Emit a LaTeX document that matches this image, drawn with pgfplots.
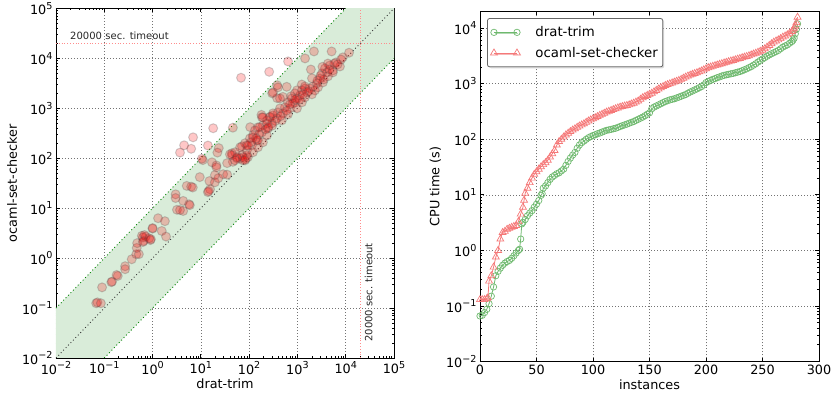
\documentclass[border=0pt]{standalone}
\usepackage{pgfplots}
\pgfplotsset{compat=1.18}
\usepackage{fontspec}
\setmainfont{DejaVu Sans}
\usetikzlibrary{shadows}
\definecolor{bandgreen}{RGB}{217,236,217}
\definecolor{lgreen}{RGB}{110,185,110}
\definecolor{lred}{RGB}{245,120,120}
\newcommand{\lbl}{\fontsize{12.8}{14}\selectfont}
\newcommand{\mysup}[1]{\raisebox{0.42em}{\fontsize{9.6}{10}\selectfont #1}}
\pgfplotsset{
  myaxis/.style={
    scale only axis,
    /pgf/number format/assume math mode=true,
    tick label style={font=\lbl},
    label style={font=\lbl},
    axis line style={line width=0.9pt},
    tick style={black, line width=0.8pt},
    major tick length=4pt,
    minor tick length=2pt,
    tick align=inside,
    grid=major,
    major grid style={black!55, line width=0.7pt, dash pattern=on 1pt off 2pt},
  },
  logx/.style={xticklabel={10\mysup{\pgfmathparse{int(round(\tick/2.302585093))}\ifnum\pgfmathresult<0 −\number-\pgfmathresult\else\pgfmathresult\fi}}},
  logy/.style={yticklabel={10\mysup{\pgfmathparse{int(round(\tick/2.302585093))}\ifnum\pgfmathresult<0 −\number-\pgfmathresult\else\pgfmathresult\fi}}},
}
\begin{document}
\begin{tikzpicture}
\useasboundingbox (-56pt,-40pt) rectangle (777pt,358pt);
\begin{axis}[myaxis, logx, logy,
  at={(0pt,0pt)}, anchor=south west,
  width=338pt, height=349.5pt,
  xmode=log, ymode=log,
  xmin=0.01, xmax=100000, ymin=0.01, ymax=100000,
  xtick={0.01,0.1,1,10,100,1000,10000,100000},
  ytick={0.01,0.1,1,10,100,1000,10000,100000},
  xlabel={drat-trim}, ylabel={ocaml-set-checker},
  xlabel style={yshift=2pt}, ylabel style={yshift=-2pt},
]
\addplot[draw=none, fill=bandgreen, forget plot] coordinates {(0.001,0.01) (100000,1000000) (1000000,100000) (0.01,0.001)} -- cycle;
\addplot[green!50!black, line width=0.9pt, dash pattern=on 0.9pt off 2.6pt, forget plot] coordinates {(0.01,0.1) (10000,100000)};
\addplot[green!50!black, line width=0.9pt, dash pattern=on 0.9pt off 2.6pt, forget plot] coordinates {(0.1,0.01) (100000,10000)};
\addplot[black!80, line width=0.9pt, dash pattern=on 0.9pt off 2.6pt, forget plot] coordinates {(0.01,0.01) (100000,100000)};
\addplot[red!45, line width=0.5pt, dash pattern=on 0.8pt off 2pt, forget plot] coordinates {(0.01,20000) (100000,20000)};
\addplot[red!45, line width=0.5pt, dash pattern=on 0.8pt off 2pt, forget plot] coordinates {(20000,0.01) (20000,100000)};
\node[anchor=west, font=\fontsize{10}{12}\selectfont, text=black!85, inner sep=0pt] at (axis cs:0.0195,28000) {20000\hspace{3.5pt}sec. timeout};
\node[anchor=west, rotate=90, font=\fontsize{10}{12}\selectfont, text=black!85, inner sep=0pt] at (axis cs:30000,0.021) {20000\hspace{3.5pt}sec. timeout};
\addplot[only marks, mark=*, mark size=4.5pt, mark options={fill=red, fill opacity=0.22, draw=black!70, draw opacity=0.25, line width=1pt}] table {
x y
0.068 0.125
0.072 0.13
0.085 0.125
0.09 0.26
0.14 0.33
0.145 0.34
0.19 0.44
0.18 0.46
0.27 0.69
0.27 0.6
0.37 0.95
0.46 1.2
0.52 1.2
0.47 1.6
0.48 2.0
0.63 2.6
0.6 2.8
0.72 2.7
0.68 2.9
0.63 2.1
0.65 2.2
0.9 2.3
0.85 2.5
0.92 2.4
1.0 3.9
1.0 4.0
1.3 6.3
1.8 5.5
1.55 3.5
1.9 2.7
3.2 9.3
4.3 8.8
3.7 9.2
4.3 14
5.7 12
5.9 11.5
3.0 19
3.0 16
5.1 28
6.3 27
6.8 26
9.5 42
15 35
19.5 33
19.5 46
23 40
29 48
35 47
15.5 24
14 21
14.5 22
11 92
17 83
21 72
10.5 98
44 126
46 85
35 80
65 100
85 97
71 174
89 182
6.9 263
4.5 182
3.7 130
6.3 155
14 180
23.5 160
22 130
18 400
46 410
105 420
68 4100
640 8700
180 740
270 680
300 2000
380 2900
380 1600
500 1700
600 2700
740 1750
980 2300
890 1300
1230 3000
1440 2500
1440 10000
1900 6000
2200 13800
5100 13800
8700 10500
11700 13000
6270 8300
4710 7240
3710 6310
4080 5250
5430 5750
3220 5010
4280 4370
2930 3980
3370 3310
2540 3160
2660 2630
2100 2750
1810 2510
2300 2290
1430 2750
1240 2290
1570 2090
2000 1910
1127 1820
1430 1660
887 2000
977 1580
1240 1320
770 1580
636 1320
806 1260
551 1050
700 1000
977 1000
435 1000
395 830
500 794
636 759
311 724
270 661
377 631
477 575
184 661
234 575
296 501
193 457
152 417
245 398
132 363
184 331
234 288
120 288
104 251
145 229
193 209
82 200
114 182
152 166
65 166
90 145
120 132
51 132
71 115
94 105
44 115
56 100
74 91
395 2630
311 2090
435 1580
40 120
120 263
152 229
90 115
74 105
56 105
82 91
51 91
21 66
165 420
234 500
193 660
311 794
4280 7900
5800 7900
7600 6900
5430 5250
3000 4500
3500 3800
2600 3600
1700 2200
1100 1500
900 1500
700 1200
600 900
450 700
350 560
300 450
250 420
220 380
160 300
140 250
110 210
95 180
3300 6800
4600 6000
6800 7600
8000 9500
260 5400
2000 4000
1300 1900
};
\end{axis}
\begin{axis}[myaxis, logy,
  at={(424pt,-3.5pt)}, anchor=south west,
  width=339pt, height=350pt,
  ymode=log,
  xmin=0, xmax=300, ymin=0.01, ymax=20000,
  xtick={0,50,...,300},
  ytick={0.01,0.1,1,10,100,1000,10000},
  xlabel={instances}, ylabel={CPU time (s)},
  xlabel style={yshift=2pt}, ylabel style={yshift=-2pt},
  legend style={at={(0.021,0.981)}, anchor=north west, font=\fontsize{13.3}{16}\selectfont,
    draw=black!60, line width=0.8pt, rounded corners=2pt, drop shadow={shadow xshift=1.5pt, shadow yshift=-1.5pt, fill=black!30},
    inner xsep=3pt, inner ysep=6pt, row sep=5pt},
  legend cell align=left,
  legend image code/.code={\draw[#1] plot coordinates {(5pt,0pt) (28pt,0pt)};},
]
\addplot[lgreen, line width=0.8pt, mark=o, mark size=3.2pt, mark options={line width=0.7pt}] table {
x y
0 0.066
2 0.068
4 0.076
6 0.087
8 0.11
10 0.15
12 0.22
14 0.35
16 0.42
18 0.48
20 0.54
22 0.59
24 0.63
26 0.66
28 0.72
30 0.8
32 0.9
34 1.0
35 1.05
36 1.6
37 3.0
38 3.2
40 3.6
42 4.2
44 4.7
46 5.2
48 6.0
50 6.8
52 7.9
54 9.8
55 10.5
56 13.2
58 14.5
60 16.6
62 19
64 21
66 22.4
68 24
70 25
72 27
74 29
76 34
78 40
80 46
82 52
84 58
86 69
88 79
90 87
92 93
94 100
96 107
98 112
100 117
102 121
104 126
106 130
108 135
110 140
112 145
114 148
116 151
118 155
120 158
122 164
124 170
126 176
128 182
130 188
132 195
134 202
136 209
138 219
140 229
142 240
144 251
146 266
148 282
150 300
152 355
154 380
156 398
158 417
160 437
162 458
164 479
166 495
168 513
170 525
172 537
174 556
176 575
178 596
180 617
182 640
184 675
186 710
188 740
190 775
192 810
194 850
196 890
198 950
200 1050
202 1100
204 1150
206 1200
208 1240
210 1290
212 1330
214 1380
216 1420
218 1450
220 1480
222 1510
224 1540
226 1580
228 1620
230 1660
232 1720
234 1790
236 1860
238 1950
240 2040
242 2160
244 2290
246 2460
248 2630
250 2790
252 2950
254 3130
256 3310
258 3470
260 3630
262 3800
264 3980
266 4270
268 4570
270 4800
272 5010
274 5370
276 5750
277 6100
278 6610
279 7940
280 9550
281 12000
};
\addlegendentry{\hspace{13pt}drat-trim}
\addplot[lred, line width=0.8pt, mark=triangle, mark size=4pt, mark options={line width=0.7pt}] table {
x y
0 0.13
2 0.13
4 0.13
6 0.135
7 0.14
8 0.28
10 0.35
12 0.5
14 0.76
16 1.0
18 1.6
20 2.1
22 2.2
24 2.4
26 2.5
28 2.6
30 2.7
32 2.8
34 3.3
36 4.5
38 6.0
39 8.0
40 10.7
42 13.2
44 16.6
46 20
48 23.4
50 26
52 29
54 32
56 35
58 38
60 42
62 48
64 55
66 63
68 79
70 91
72 100
74 110
76 120
78 129
80 138
82 147
84 155
86 165
88 174
90 182
92 190
94 202
96 214
98 224
100 234
102 245
104 257
106 270
108 282
110 295
112 309
114 320
116 331
118 343
120 355
122 367
124 380
126 389
128 398
130 407
132 417
134 432
136 447
138 468
140 490
142 525
144 562
146 590
148 617
150 646
152 676
154 716
156 759
158 805
160 851
162 891
164 933
166 966
168 1000
170 1035
172 1070
174 1110
176 1150
178 1200
180 1260
182 1320
184 1380
186 1430
188 1480
190 1530
192 1580
194 1640
196 1700
198 1780
200 1860
202 1950
204 2000
206 2060
208 2120
210 2180
212 2240
214 2300
216 2370
218 2430
220 2500
222 2570
224 2630
226 2700
228 2780
230 2850
232 2950
234 3020
236 3100
238 3200
240 3310
242 3430
244 3550
246 3700
248 3850
250 4000
252 4270
254 4570
256 4900
258 5250
260 5620
262 5900
264 6170
266 6500
268 6920
270 7240
272 7590
274 8130
276 8710
277 9300
278 10000
279 11000
280 12600
281 15800
};
\addlegendentry{\hspace{13pt}ocaml-set-checker}
\end{axis}
\end{tikzpicture}
\end{document}
